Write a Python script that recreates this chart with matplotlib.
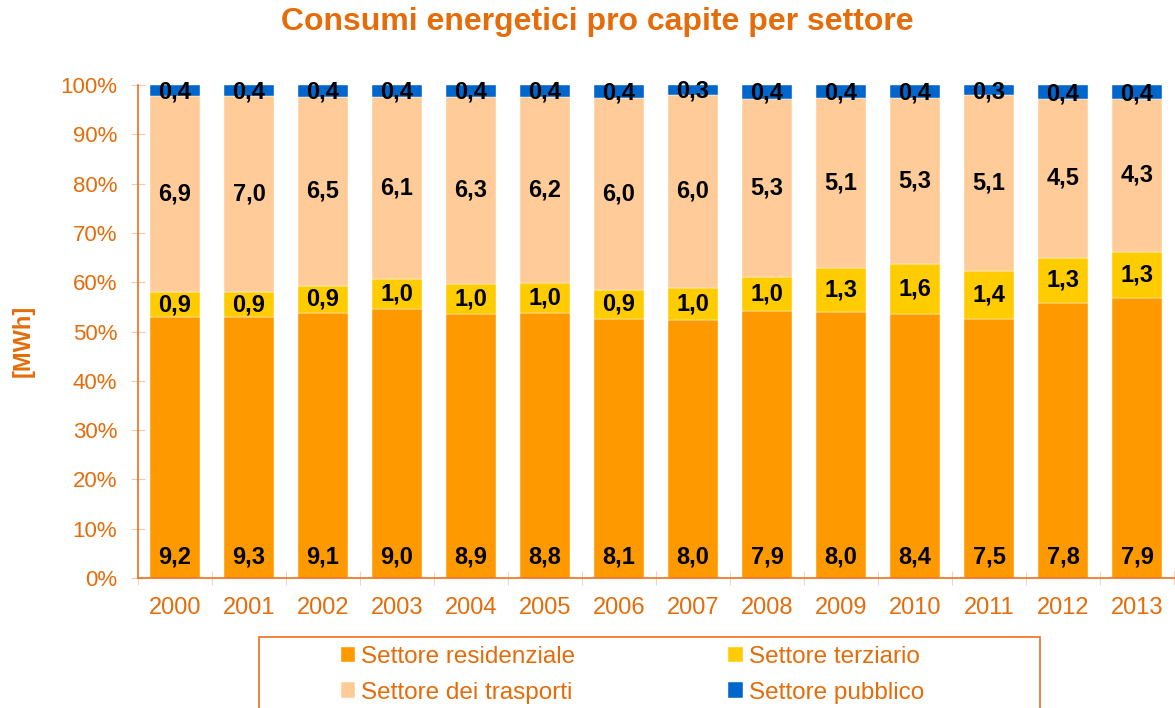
import matplotlib.pyplot as plt
from matplotlib.patches import Rectangle
import numpy as np

plt.rcParams['font.family'] = ['Liberation Sans', 'DejaVu Sans']

years = ['2000', '2001', '2002', '2003', '2004', '2005', '2006',
         '2007', '2008', '2009', '2010', '2011', '2012', '2013']
residenziale = [9.2, 9.3, 9.1, 9.0, 8.9, 8.8, 8.1, 8.0, 7.9, 8.0, 8.4, 7.5, 7.8, 7.9]
terziario = [0.9, 0.9, 0.9, 1.0, 1.0, 1.0, 0.9, 1.0, 1.0, 1.3, 1.6, 1.4, 1.3, 1.3]
trasporti = [6.9, 7.0, 6.5, 6.1, 6.3, 6.2, 6.0, 6.0, 5.3, 5.1, 5.3, 5.1, 4.5, 4.3]
pubblico = [0.4, 0.4, 0.4, 0.4, 0.4, 0.4, 0.4, 0.3, 0.4, 0.4, 0.4, 0.3, 0.4, 0.4]

series = [
    ('Settore residenziale', residenziale, '#FF9900'),
    ('Settore terziario', terziario, '#FFCC00'),
    ('Settore dei trasporti', trasporti, '#FFCC99'),
    ('Settore pubblico', pubblico, '#0066CC'),
]

orange = '#E46C0A'
axis_orange = '#F07020'
W, H = 1175, 708

fig = plt.figure(figsize=(11.75, 7.08), dpi=100)
ax = fig.add_axes([138 / W, 1 - 578 / H, 1036 / W, 493 / H])

x = np.arange(len(years))
totals = np.sum([s[1] for s in series], axis=0)
bottom = np.zeros(len(years))
handles = []
for i, (name, vals, color) in enumerate(series):
    pct = np.array(vals) / totals * 100
    bars = ax.bar(x, pct, width=0.676, bottom=bottom, color=color, label=name,
                  edgecolor='white', linewidth=0.3)
    handles.append(bars)
    for xi, b, p, v in zip(x, bottom, pct, vals):
        lab = f'{v:.1f}'.replace('.', ',')
        if i == 0:
            y = b + 4.3
        elif i == 3:
            y = b + p / 2 - 0.3
        else:
            y = b + p / 2
        ax.text(xi, y, lab, ha='center', va='center', fontsize=17,
                fontweight='bold', color='black')
    bottom += pct

ax.set_xlim(-0.5, len(years) - 0.5)
ax.set_ylim(0, 100)
ax.set_yticks(np.arange(0, 101, 10))
ax.set_yticklabels([f'{v}%' for v in range(0, 101, 10)])
ax.set_xticks(x)
ax.set_xticklabels(years)
ax.set_xticks(np.arange(-0.5, len(years), 1), minor=True)

for s in ['top', 'right']:
    ax.spines[s].set_visible(False)
for s in ['left', 'bottom']:
    ax.spines[s].set_color(axis_orange)
    ax.spines[s].set_linewidth(1.2)

ax.tick_params(axis='y', colors='#F9C9A8', labelcolor=orange, labelsize=16,
               direction='inout', length=10, pad=10)
ax.tick_params(axis='x', which='major', length=0, labelcolor=orange,
               labelsize=17, pad=14)
ax.tick_params(axis='x', which='minor', colors='#F9C9A8', direction='inout',
               length=10)

fig.text(23 / W, 1 - 341 / H, '[MWh]', rotation=90, ha='center', va='center',
         color=orange, fontsize=17, fontweight='bold')

fig.text(597 / W, 1 - 22 / H, 'Consumi energetici pro capite per settore',
         ha='center', va='center', color=orange, fontsize=23, fontweight='bold')

# legend box (runs off the bottom of the figure)
fig.patches.append(Rectangle((259 / W, -0.05), (1040 - 259) / W,
                             1 - 637 / H + 0.05, transform=fig.transFigure,
                             fill=False, edgecolor=axis_orange, linewidth=1.2))

leg = fig.legend([handles[0], handles[2], handles[1], handles[3]],
                 ['Settore residenziale', 'Settore dei trasporti',
                  'Settore terziario', 'Settore pubblico'],
                 ncol=2, loc='upper left', bbox_to_anchor=(341 / W, 1 - 646 / H),
                 borderaxespad=0, borderpad=0,
                 frameon=False, fontsize=17.5, handlelength=0.58, handleheight=0.58,
                 handletextpad=0.25, columnspacing=6.3, labelspacing=0.56)
for t in leg.get_texts():
    t.set_color(orange)

fig.savefig('out.png', dpi=100)
